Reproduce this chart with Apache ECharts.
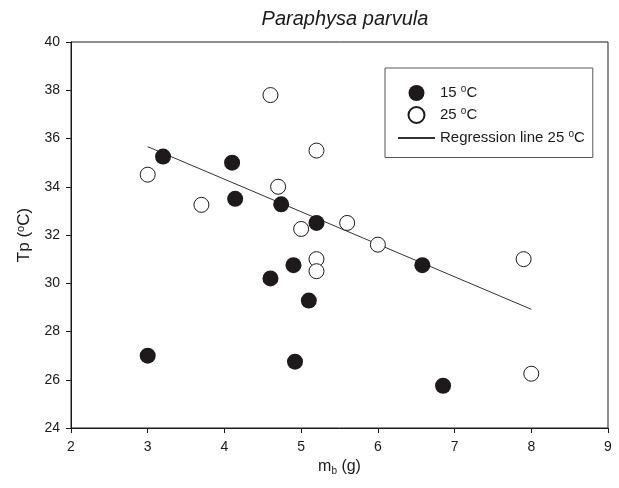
<!DOCTYPE html>
<html>
<head>
<meta charset="utf-8">
<script src="https://cdn.jsdelivr.net/npm/echarts@6/dist/echarts.min.js"></script>
<style>
  html, body { margin: 0; padding: 0; background: #fff; }
  #chart { width: 619px; height: 488px; }
</style>
</head>
<body>
<div id="chart"></div>
<script>
// body mass (g) and preferred temperature, 15 °C group
const mass15 = [3.2, 4.1, 4.14, 4.74, 5.2, 3.0, 4.6, 4.9, 5.1, 4.92, 6.58, 6.85]
const tp15 = [35.25, 35.0, 33.5, 33.27, 32.5, 27.0, 30.2, 30.75, 29.28, 26.75, 30.75, 25.75]
// 25 °C group
const mass25 = [4.6, 3.0, 3.7, 4.7, 5.2, 5.0, 5.6, 5.2, 5.2, 6.0, 7.9, 8.0]
const tp25 = [37.8, 34.5, 33.25, 34.0, 35.5, 32.25, 32.5, 31.0, 30.5, 31.6, 31.0, 26.25]
// regression line 25 °C, end points
const regMass = [3.0, 8.0]
const regTp = [35.66, 28.92]

const yTicks = [24, 26, 28, 30, 32, 34, 36, 38, 40]
const xTicks = [2, 3, 4, 5, 6, 7, 8, 9]

const font = 'Liberation Sans, Arial, sans-serif'
const ink = '#1a1a1a'

const zip = (xs, ys) => xs.map((x, i) => [x, ys[i]])

const chart = echarts.init(document.getElementById('chart'))
chart.setOption({
  animation: false,
  backgroundColor: '#fff',
  title: {
    text: 'Paraphysa parvula',
    left: 340,
    textAlign: 'center',
    top: 4,
    textStyle: { fontFamily: font, fontStyle: 'italic', fontWeight: 'normal', fontSize: 20, color: ink }
  },
  grid: {
    left: 71,
    right: 11,
    top: 42,
    bottom: 60,
    show: true,
    borderColor: ink,
    borderWidth: 1
  },
  legend: {
    orient: 'vertical',
    left: 385,
    top: 68,
    padding: [16, 8, 12, 12],
    borderColor: '#555',
    borderWidth: 1,
    itemWidth: 37,
    itemHeight: 16,
    itemGap: 5,
    data: [
      { name: '15 °C' },
      { name: '25 °C' },
      { name: 'Regression line 25 °C', itemStyle: { color: 'rgba(0,0,0,0)', borderWidth: 0 } }
    ],
    formatter: (name) => name.replace(' °C', ' {sup|o}C'),
    textStyle: {
      fontFamily: font,
      fontSize: 15,
      color: ink,
      rich: {
        sup: { fontSize: 10, padding: [0, 0, 8, 0], fontFamily: font, color: ink }
      }
    }
  },
  xAxis: {
    type: 'value',
    min: 2,
    max: 9,
    interval: 1,
    name: 'm{sub|b} (g)',
    nameLocation: 'middle',
    nameGap: 29,
    nameTextStyle: {
      fontFamily: font,
      fontSize: 16,
      color: ink,
      rich: {
        sub: { fontSize: 10, padding: [8, 0, 0, 0], fontFamily: font, color: ink }
      }
    },
    axisLine: { show: true, lineStyle: { color: ink, width: 1 } },
    axisTick: { show: true, length: 5, lineStyle: { color: ink } },
    axisLabel: {
      margin: 12,
      fontFamily: font,
      fontSize: 14,
      color: ink,
      formatter: (v) => xTicks.includes(v) ? String(v) : ''
    },
    splitLine: { show: false }
  },
  yAxis: {
    type: 'value',
    min: 24,
    max: 40,
    interval: 2,
    name: 'Tp ({sup|o}C)',
    nameLocation: 'middle',
    nameGap: 37,
    nameRotate: 90,
    nameTextStyle: {
      fontFamily: font,
      fontSize: 17,
      color: ink,
      rich: {
        sup: { fontSize: 11, padding: [0, 0, 8, 0], fontFamily: font, color: ink }
      }
    },
    axisLine: { show: true, lineStyle: { color: ink, width: 1 } },
    axisTick: { show: true, length: 5, lineStyle: { color: ink } },
    axisLabel: {
      margin: 11,
      fontFamily: font,
      fontSize: 14,
      color: ink,
      formatter: (v) => yTicks.includes(v) ? String(v) : ''
    },
    splitLine: { show: false }
  },
  series: [
    {
      name: 'Regression line 25 °C',
      type: 'line',
      data: zip(regMass, regTp),
      symbol: 'none',
      z: 1,
      lineStyle: { color: '#333', width: 1 },
      itemStyle: { color: '#333' }
    },
    {
      name: '15 °C',
      type: 'scatter',
      data: zip(mass15, tp15),
      symbol: 'circle',
      symbolSize: 16,
      z: 3,
      itemStyle: { color: '#1e1a1b', opacity: 1 }
    },
    {
      name: '25 °C',
      type: 'scatter',
      data: zip(mass25, tp25),
      symbol: 'circle',
      symbolSize: 15,
      z: 3,
      itemStyle: { color: '#fff', borderColor: ink, borderWidth: 1, opacity: 1 }
    }
  ]
})
</script>
</body>
</html>
